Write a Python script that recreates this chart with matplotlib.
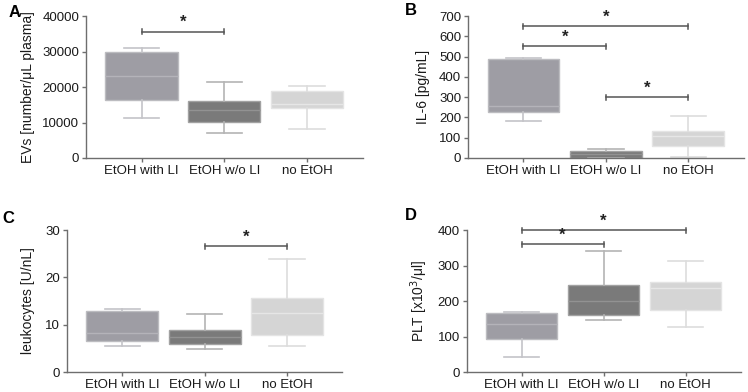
import matplotlib
matplotlib.use('Agg')
import matplotlib.pyplot as plt

plt.rcParams['font.family'] = ['Liberation Sans', 'DejaVu Sans']

groups = ['EtOH with LI', 'EtOH w/o LI', 'no EtOH']

# box stats per panel: whisker low, q1, median, q3, whisker high
ev_low = [11200, 7100, 8200]
ev_q1 = [16400, 10100, 14200]
ev_med = [23200, 13600, 15200]
ev_q3 = [30000, 16100, 18800]
ev_high = [30900, 21400, 20400]

il6_low = [180, 0, 5]
il6_q1 = [226, 0, 57]
il6_med = [257, 20, 107]
il6_q3 = [489, 33, 134]
il6_high = [495, 46, 205]

leu_low = [5.6, 4.9, 5.4]
leu_q1 = [6.6, 5.85, 7.75]
leu_med = [8.3, 7.3, 12.5]
leu_q3 = [12.95, 8.9, 15.7]
leu_high = [13.3, 12.25, 23.9]

plt_low = [41, 146, 127]
plt_q1 = [94, 160, 176]
plt_med = [136, 201, 238]
plt_q3 = [166, 246, 253]
plt_high = [168, 340, 313]

# significance bars: (from group, to group, height)
ev_sig = [(1, 2, 35600)]
il6_sig = [(1, 3, 650), (1, 2, 550), (2, 3, 300)]
leu_sig = [(2, 3, 26.6)]
plt_sig = [(1, 3, 400), (1, 2, 360)]

face = ['#9e9da4', '#7a7a7a', '#d5d5d5']
edge = ['#bcbcc0', '#a2a2a2', '#e4e4e4']
medc = ['#b4b3b9', '#929292', '#e6e6e6']
whisk = ['#c4c4c8', '#b4b4b4', '#dddddd']

fig = plt.figure(figsize=(7.48, 3.92), dpi=100)


def panel(rect, low, q1, med, q3, high, ymax, step, ylabel, sig, letter, lab_x, let_xy):
    ax = fig.add_axes(rect)
    for i in range(3):
        st = [dict(whislo=low[i], q1=q1[i], med=med[i], q3=q3[i],
                   whishi=high[i], fliers=[])]
        ax.bxp(st, positions=[i + 1], widths=0.87, patch_artist=True,
               showfliers=False,
               boxprops=dict(facecolor=face[i], edgecolor=edge[i], linewidth=1),
               medianprops=dict(color=medc[i], linewidth=1),
               whiskerprops=dict(color=whisk[i], linewidth=1.2),
               capprops=dict(color=whisk[i], linewidth=1.2),
               capwidths=0.43)
    for a, b, h in sig:
        ax.plot([a, b], [h, h], color='#555555', lw=1.1, clip_on=False)
        d = ymax * 0.018
        for x in (a, b):
            ax.plot([x, x], [h - d, h + d], color='#555555', lw=1.1, clip_on=False)
        ax.text((a + b) / 2, h + ymax * 0.01, '*', ha='center', va='bottom',
                fontsize=12, fontweight='bold', color='#222222')
    ax.set_xlim(0.33, 3.67)
    ax.set_ylim(0, ymax)
    ax.set_yticks(range(0, int(ymax) + 1, step))
    ax.set_xticks([1, 2, 3])
    ax.set_xticklabels(groups)
    ax.spines['top'].set_visible(False)
    ax.spines['right'].set_visible(False)
    for s in ('left', 'bottom'):
        ax.spines[s].set_color('#6e6e6e')
        ax.spines[s].set_linewidth(1)
    ax.tick_params(colors='#6e6e6e', labelcolor='#1a1a1a', labelsize=9.5,
                   length=3, width=1, pad=2)
    ax.set_ylabel(ylabel, fontsize=10, color='#1a1a1a')
    ax.yaxis.set_label_coords(lab_x, 0.5)
    fig.text(let_xy[0], let_xy[1], letter, fontsize=12, fontweight='bold',
             ha='left', va='center')
    return ax


panel([0.115, 0.597, 0.370, 0.362], ev_low, ev_q1, ev_med, ev_q3, ev_high,
      40000, 10000, 'EVs [number/\u03bcL plasma]', ev_sig, 'A', -0.184, (0.012, 0.967))
panel([0.626, 0.597, 0.368, 0.362], il6_low, il6_q1, il6_med, il6_q3, il6_high,
      700, 100, 'IL-6 [pg/mL]', il6_sig, 'B', -0.138, (0.541, 0.974))
panel([0.0896, 0.051, 0.368, 0.362], leu_low, leu_q1, leu_med, leu_q3, leu_high,
      30, 10, 'leukocytes [U/nL]', leu_sig, 'C', -0.116, (0.003, 0.443))
panel([0.624, 0.051, 0.366, 0.362], plt_low, plt_q1, plt_med, plt_q3, plt_high,
      400, 100, 'PLT [x10$^3$/\u03bcl]', plt_sig, 'D', -0.135, (0.541, 0.449))

fig.savefig('out.png', dpi=100)
